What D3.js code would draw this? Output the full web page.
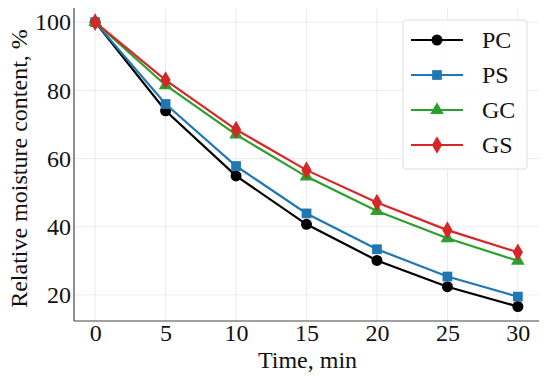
<!DOCTYPE html>
<html><head><meta charset="utf-8">
<script src="https://cdn.jsdelivr.net/npm/d3@7"></script>
<style>body{margin:0;background:#fff}svg{display:block}text{font-family:"Liberation Serif","Times New Roman",serif}</style>
</head><body><svg id="c" width="550" height="376"></svg>
<script>
const times = [0, 5, 10, 15, 20, 25, 30];
const seriesNames = ["PC", "PS", "GC", "GS"];
const PC = [100, 74, 54.9, 40.7, 30.1, 22.4, 16.6];
const PS = [100, 76, 57.8, 43.9, 33.4, 25.4, 19.5];
const GC = [100, 81.5, 67, 54.7, 44.6, 36.6, 30];
const GS = [100, 83, 68.5, 56.6, 47.1, 39, 32.5];
const xTicks = [0, 5, 10, 15, 20, 25, 30];
const yTicks = [20, 40, 60, 80, 100];
const colors = ["#000000", "#1f77b4", "#2ca02c", "#d62728"];
const shapes = [d3.symbolCircle, d3.symbolSquare, d3.symbolTriangle, d3.symbolDiamond];
const values = [PC, PS, GC, GS];

const svg = d3.select("#c");
const L = 74, R = 539, T = 8, B = 321;
const x = d3.scaleLinear().domain([-1.5, 31.5]).range([L, R]);
const y = d3.scaleLinear().domain([12.35, 104.15]).range([B, T]);

// grid
svg.append("g").selectAll("line").data(xTicks).join("line")
  .attr("x1", d => x(d)).attr("x2", d => x(d)).attr("y1", T).attr("y2", B)
  .attr("stroke", "#ebebeb").attr("stroke-width", 1);
svg.append("g").selectAll("line").data(yTicks).join("line")
  .attr("x1", L).attr("x2", R).attr("y1", d => y(d)).attr("y2", d => y(d))
  .attr("stroke", "#ebebeb").attr("stroke-width", 1);

// axes
const xa = svg.append("g").attr("transform", `translate(0,${B})`)
  .call(d3.axisBottom(x).tickValues(xTicks).tickSize(0).tickPadding(3));
const ya = svg.append("g").attr("transform", `translate(${L},0)`)
  .call(d3.axisLeft(y).tickValues(yTicks).tickSize(0).tickPadding(3));
[xa, ya].forEach(a => {
  a.select(".domain").attr("stroke", "#444").attr("stroke-width", 1.2);
  a.selectAll("text").attr("font-size", 24).attr("fill", "#111");
});
xa.select(".domain").attr("d", `M${L},0H${R}`);
ya.select(".domain").attr("d", `M0,${T}V${B}`);

svg.append("text").attr("x", (L + R) / 2 + 1).attr("y", 368).attr("text-anchor", "middle")
  .attr("font-size", 24).attr("fill", "#111").text("Time, min");
svg.append("text").attr("transform", `translate(27,${(T + B) / 2 + 4}) rotate(-90)`)
  .attr("text-anchor", "middle").attr("font-size", 24).attr("fill", "#111")
  .text("Relative moisture content, %");

const line = d3.line().x((d, i) => x(times[i])).y(d => y(d));
const symSize = [95, 95, 80, 90];
values.forEach((vals, k) => {
  const g = svg.append("g");
  g.append("path").datum(vals).attr("d", line).attr("fill", "none")
    .attr("stroke", colors[k]).attr("stroke-width", 2.2);
  g.selectAll("path.m").data(vals).join("path").attr("class", "m")
    .attr("transform", (d, i) => `translate(${x(times[i])},${y(d)})`)
    .attr("d", d3.symbol().type(shapes[k]).size(symSize[k]))
    .attr("fill", colors[k]);
});

// legend
const lg = svg.append("g");
lg.append("rect").attr("x", 403).attr("y", 20).attr("width", 124).attr("height", 149)
  .attr("rx", 3).attr("fill", "#fff").attr("fill-opacity", 0.85).attr("stroke", "#dddddd");
seriesNames.forEach((n, k) => {
  const yy = 40 + k * 35;
  lg.append("line").attr("x1", 411).attr("x2", 463).attr("y1", yy).attr("y2", yy)
    .attr("stroke", colors[k]).attr("stroke-width", 2.2);
  lg.append("path").attr("transform", `translate(437,${yy})`)
    .attr("d", d3.symbol().type(shapes[k]).size(symSize[k]))
    .attr("fill", colors[k]);
  lg.append("text").attr("x", 482).attr("y", yy + 8).attr("font-size", 24)
    .attr("fill", "#111").text(n);
});
</script></body></html>
